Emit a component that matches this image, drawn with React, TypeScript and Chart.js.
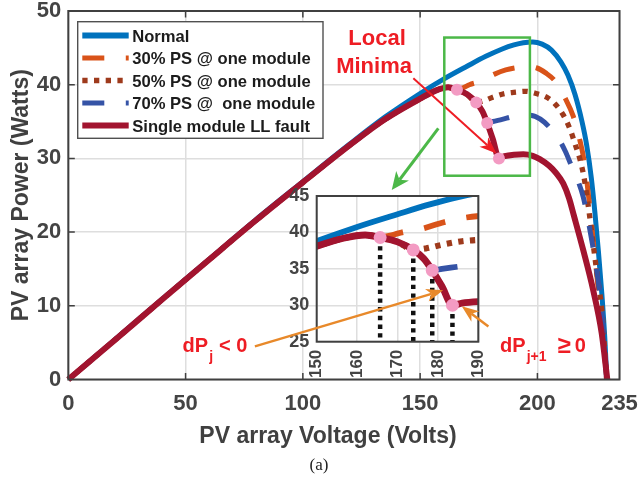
import React, { useEffect, useRef } from 'react';
import { Chart, registerables } from 'chart.js';
Chart.register(...registerables);

const W = 638;
const H = 481;
const FONT = '"Liberation Sans", Arial, Helvetica, sans-serif';
const AXIS = '#404040';
const TICK = '#444444';
const GRID = '#dedede';

// ---------------- data ----------------
const normalV = [0, 20, 40, 60, 80, 100, 120, 135, 150, 160, 170, 178, 185, 190, 194, 198, 202, 206, 210, 213, 216, 219, 221, 223, 224.5, 226, 227.5, 228.7, 229.6];
const normalP = [0, 5.45, 10.9, 16.3, 21.7, 26.85, 31.95, 35.6, 38.8, 40.75, 42.5, 43.85, 44.85, 45.4, 45.7, 45.8, 45.5, 44.7, 43.1, 41.3, 38.7, 35.0, 31.8, 27.3, 22.7, 17.4, 11.5, 5.8, 0];

const ps30V = [0, 20, 40, 60, 80, 100, 120, 135, 150, 156.6, 162, 165.7, 168.5, 171, 176, 181.5, 186.5, 191, 195, 199.5, 203.5, 207.5, 211.8, 215.3, 218, 220, 222.4, 224.2, 226, 228, 229.6];
const ps30P = [0, 5.4, 10.85, 16.25, 21.6, 26.75, 31.8, 35.3, 38.1, 39.2, 39.65, 39.35, 39.6, 40.0, 40.5, 41.4, 42.0, 42.3, 42.45, 42.3, 41.6, 40.5, 38.2, 35.7, 32.6, 29.5, 23.2, 17.6, 12.1, 5.6, 0];

const ps50V = [0, 20, 40, 60, 80, 100, 120, 135, 150, 156.6, 162, 165.7, 170, 173.9, 177, 181, 186, 191, 195, 199.5, 204, 207.5, 211, 214, 216, 218.2, 220, 222, 224, 226, 227.5, 229.5];
const ps50P = [0, 5.4, 10.85, 16.25, 21.6, 26.75, 31.8, 35.3, 38.1, 39.2, 39.65, 39.3, 38.7, 37.6, 37.8, 38.3, 38.8, 39.0, 39.1, 38.8, 38.3, 37.4, 35.9, 33.9, 32.0, 29.8, 27.2, 22.8, 17.8, 13.0, 9.3, 0];

const ps70V = [0, 20, 40, 60, 80, 100, 120, 135, 150, 156.6, 162, 165.7, 170, 173.9, 176.5, 178.6, 181, 185, 190, 195, 199, 203, 206, 209, 212, 214.5, 217, 219.5, 221.5, 223.5, 225.5, 227.5, 229.5];
const ps70P = [0, 5.4, 10.85, 16.25, 21.6, 26.75, 31.8, 35.3, 38.1, 39.2, 39.65, 39.3, 38.7, 37.6, 36.4, 34.8, 35.0, 35.3, 35.7, 35.9, 35.7, 34.9, 33.9, 32.7, 30.9, 29.0, 27.2, 24.8, 21.8, 18.3, 14.3, 9.0, 0];

const faultV = [0, 20, 40, 60, 80, 100, 120, 135, 150, 156.6, 162, 165.7, 170, 173.9, 176.5, 178.6, 181, 183.6, 186, 190, 194, 198, 201, 205, 208, 211, 213.5, 215.5, 219.5, 223.8, 227.4, 229.8];
const faultP = [0, 5.4, 10.85, 16.25, 21.6, 26.75, 31.8, 35.3, 38.1, 39.2, 39.65, 39.3, 38.7, 37.6, 36.4, 34.8, 32.6, 30.0, 30.3, 30.5, 30.55, 30.35, 29.9, 29.0, 28.0, 26.6, 24.6, 22.3, 17.6, 12.1, 6.3, 0];

const markerV = [165.7, 173.9, 178.6, 183.6];
const markerP = [39.3, 37.6, 34.8, 30.0];

const xTicks = [0, 50, 100, 150, 200, 235];
const yTicks = [0, 10, 20, 30, 40, 50];
const insetXTicks = [150, 160, 170, 180, 190];
const insetYTicks = [25, 30, 35, 40, 45];

const seriesLabels = ['Normal', '30% PS @ one module', '50% PS @ one module', '70% PS @  one module', 'Single module LL fault'];
const seriesColors = ['#0072BD', '#D95319', '#9E3A1C', '#3553A6', '#A2142F'];
const markerColor = '#F39BC3';

const xTitle = 'PV array Voltage (Volts)';
const yTitle = 'PV array Power (Watts)';
const caption = '(a)';

// --------------- helpers ---------------
const pts = (vs: number[], ps: number[]) => vs.map((v, i) => ({ x: v, y: ps[i] }));

const styles = [
  { w: 5, dash: [] as number[] },
  { w: 5, dash: [22, 21.5] },
  { w: 5.3, dash: [5.3, 6.4] },
  { w: 5, dash: [22, 21.5] },
  { w: 6, dash: [] as number[] },
];

function seriesDatasets(scale: number, clip: number, offsets: number[]) {
  const data = [pts(normalV, normalP), pts(ps30V, ps30P), pts(ps50V, ps50P), pts(ps70V, ps70P), pts(faultV, faultP)];
  const orders = [6, 5, 4, 3, 2];
  return data.map((d, i) => ({
    label: seriesLabels[i],
    data: d,
    borderColor: seriesColors[i],
    backgroundColor: seriesColors[i],
    borderWidth: styles[i].w * scale,
    borderDash: styles[i].dash,
    borderDashOffset: offsets[i],
    borderCapStyle: 'butt',
    borderJoinStyle: 'round',
    pointRadius: 0,
    fill: false,
    cubicInterpolationMode: 'monotone',
    order: orders[i],
    clip,
  }));
}

function drawArrow(ctx: CanvasRenderingContext2D, x1: number, y1: number, x2: number, y2: number, color: string, width: number, headLen: number, headW: number) {
  const ang = Math.atan2(y2 - y1, x2 - x1);
  const ux = Math.cos(ang), uy = Math.sin(ang);
  const px = -uy, py = ux;
  const bx = x2 - ux * headLen, by = y2 - uy * headLen;
  const nx = x2 - ux * headLen * 0.72, ny = y2 - uy * headLen * 0.72;
  ctx.save();
  ctx.strokeStyle = color;
  ctx.fillStyle = color;
  ctx.lineWidth = width;
  ctx.setLineDash([]);
  ctx.beginPath();
  ctx.moveTo(x1, y1);
  ctx.lineTo(nx, ny);
  ctx.stroke();
  ctx.beginPath();
  ctx.moveTo(x2, y2);
  ctx.lineTo(bx + (px * headW) / 2, by + (py * headW) / 2);
  ctx.lineTo(nx, ny);
  ctx.lineTo(bx - (px * headW) / 2, by - (py * headW) / 2);
  ctx.closePath();
  ctx.fill();
  ctx.restore();
}

const RED = '#EE1D24';
const GREEN = '#4CB848';
const ORANGE = '#E8892A';

// --------------- main decoration plugin ---------------
const mainDeco = {
  id: 'mainDeco',
  afterDraw(chart: any) {
    const { ctx, chartArea: ca } = chart;
    const xs = chart.scales.x, ys = chart.scales.y;
    ctx.save();
    // inner tick marks
    ctx.strokeStyle = AXIS;
    ctx.lineWidth = 1.5;
    const tl = 6.5;
    ctx.beginPath();
    for (const v of xTicks) {
      if (v <= xs.min || v >= xs.max) continue;
      const p = xs.getPixelForValue(v);
      ctx.moveTo(p, ca.top); ctx.lineTo(p, ca.top + tl);
      ctx.moveTo(p, ca.bottom); ctx.lineTo(p, ca.bottom - tl);
    }
    for (const v of yTicks) {
      if (v <= ys.min || v >= ys.max) continue;
      const p = ys.getPixelForValue(v);
      ctx.moveTo(ca.left, p); ctx.lineTo(ca.left + tl, p);
      ctx.moveTo(ca.right, p); ctx.lineTo(ca.right - tl, p);
    }
    ctx.stroke();
    // box
    ctx.lineWidth = 2;
    ctx.strokeRect(ca.left, ca.top, ca.right - ca.left, ca.bottom - ca.top);

    // legend
    const lx = ca.left + 9.4, ly = ca.top + 10.7, lw = 245.3, lh = 116.6;
    ctx.fillStyle = '#ffffff';
    ctx.fillRect(lx, ly, lw, lh);
    ctx.strokeStyle = '#505050';
    ctx.lineWidth = 1.4;
    ctx.strokeRect(lx, ly, lw, lh);
    const rowY0 = ly + 13.8, rowStep = 22.5;
    for (let i = 0; i < seriesLabels.length; i++) {
      const ry = rowY0 + i * rowStep;
      ctx.save();
      ctx.strokeStyle = seriesColors[i];
      ctx.lineWidth = i === 0 || i === 4 ? 6 : styles[i].w;
      ctx.setLineDash(styles[i].dash);
      ctx.lineCap = 'butt';
      ctx.beginPath();
      ctx.moveTo(lx + 4.6, ry);
      ctx.lineTo(lx + 51, ry);
      ctx.stroke();
      ctx.restore();
      ctx.fillStyle = '#1c1c1c';
      ctx.font = `bold 16.6px ${FONT}`;
      ctx.textAlign = 'left';
      ctx.textBaseline = 'alphabetic';
      ctx.fillText(seriesLabels[i], lx + 54.5, ry + 6);
    }

    // Local Minima text
    const tx = xs.getPixelForValue(131);
    ctx.fillStyle = RED;
    ctx.font = `bold 22px ${FONT}`;
    ctx.textAlign = 'center';
    ctx.textBaseline = 'alphabetic';
    ctx.fillText('Local', tx + 1.5, ys.getPixelForValue(45.4));
    ctx.fillText('Minima', tx - 1.5, ys.getPixelForValue(41.6));
    // red arrow to the last marker
    const mx = xs.getPixelForValue(markerV[3]), my = ys.getPixelForValue(markerP[3]);
    drawArrow(ctx, xs.getPixelForValue(147.1), ys.getPixelForValue(40.87), mx - 2.5, my - 5, RED, 2, 17, 13);

    // green zoom rectangle
    const gx1 = xs.getPixelForValue(160.3), gx2 = xs.getPixelForValue(196.8);
    const gy1 = ys.getPixelForValue(46.4), gy2 = ys.getPixelForValue(27.65);
    ctx.strokeStyle = GREEN;
    ctx.lineWidth = 2.5;
    ctx.strokeRect(gx1, gy1, gx2 - gx1, gy2 - gy1);
    drawArrow(ctx, xs.getPixelForValue(157.75), ys.getPixelForValue(34.08), xs.getPixelForValue(137.9), ys.getPixelForValue(25.7), GREEN, 3, 18, 16);

    // x axis title and caption
    ctx.fillStyle = AXIS;
    ctx.font = `bold 23px ${FONT}`;
    ctx.textAlign = 'center';
    ctx.textBaseline = 'middle';
    ctx.fillText(xTitle, 328, ca.bottom + 57.5);
    ctx.fillStyle = '#222222';
    ctx.font = `17px "Liberation Serif", "Times New Roman", serif`;
    ctx.fillText(caption, 319, ca.bottom + 86.5);
    ctx.restore();
  },
};

// --------------- inset decoration plugin ---------------
const insetDeco = {
  id: 'insetDeco',
  beforeDraw(chart: any) {
    const { ctx, chartArea: ca } = chart;
    ctx.save();
    ctx.fillStyle = '#ffffff';
    ctx.fillRect(ca.left, ca.top, ca.right - ca.left, ca.bottom - ca.top);
    ctx.restore();
  },
  afterDraw(chart: any) {
    const { ctx, chartArea: ca } = chart;
    const xs = chart.scales.x, ys = chart.scales.y;
    ctx.save();
    ctx.strokeStyle = AXIS;
    ctx.lineWidth = 2;
    ctx.strokeRect(ca.left, ca.top, ca.right - ca.left, ca.bottom - ca.top);

    // orange arrows
    drawArrow(ctx, xs.getPixelForValue(134.7), ys.getPixelForValue(24.36), xs.getPixelForValue(181.3), ys.getPixelForValue(32.05), ORANGE, 2.5, 17, 13);
    drawArrow(ctx, xs.getPixelForValue(192.5), ys.getPixelForValue(27.1), xs.getPixelForValue(185.9), ys.getPixelForValue(29.86), ORANGE, 2.5, 17, 13);

    // dP labels
    ctx.fillStyle = RED;
    ctx.textAlign = 'left';
    ctx.textBaseline = 'alphabetic';
    const base = ys.getPixelForValue(23.53);
    // left label
    let x0 = xs.getPixelForValue(116.8);
    ctx.font = `bold 20px ${FONT}`;
    ctx.fillText('dP', x0, base);
    let w = ctx.measureText('dP').width;
    ctx.font = `bold 14px ${FONT}`;
    ctx.fillText('j', x0 + w + 1, base + 9);
    const wj = ctx.measureText('j').width;
    ctx.font = `bold 20px ${FONT}`;
    ctx.fillText(' < 0', x0 + w + wj + 1.5, base);
    // right label
    x0 = xs.getPixelForValue(195.4);
    ctx.font = `bold 20px ${FONT}`;
    ctx.fillText('dP', x0, base);
    w = ctx.measureText('dP').width;
    ctx.font = `bold 14px ${FONT}`;
    ctx.fillText('j+1', x0 + w + 1, base + 9);
    const wj1 = ctx.measureText('j+1').width;
    const gx = x0 + w + 1 + wj1 + 11;
    ctx.font = `bold 24px ${FONT}`;
    ctx.fillText('\u2265', gx, base + 1);
    const wg = ctx.measureText('\u2265').width;
    ctx.font = `bold 20px ${FONT}`;
    ctx.fillText('0', gx + wg + 4, base);
    ctx.restore();
  },
};

export default function App() {
  const mainRef = useRef<HTMLCanvasElement | null>(null);
  const insetRef = useRef<HTMLCanvasElement | null>(null);

  useEffect(() => {
    Chart.defaults.font.family = FONT;
    const tickFont = { family: FONT, size: 22, weight: 'bold' as const };

    const main = new Chart(mainRef.current as HTMLCanvasElement, {
      type: 'line',
      data: {
        datasets: [
          ...seriesDatasets(1, 4, [0, -8, 0, -16, 0]),
          {
            label: 'markers',
            data: pts(markerV, markerP),
            showLine: false,
            pointRadius: 6,
            pointBackgroundColor: markerColor,
            pointBorderWidth: 0,
            order: 0,
          },
        ] as any,
      },
      options: {
        animation: false,
        responsive: false,
        devicePixelRatio: 1,
        events: [],
        layout: { padding: { left: 0, top: 11, right: 18.5, bottom: 0 } },
        plugins: { legend: { display: false }, tooltip: { enabled: false } },
        scales: {
          x: {
            type: 'linear',
            min: 0,
            max: 235,
            afterBuildTicks: (s: any) => { s.ticks = xTicks.map((v) => ({ value: v })); },
            afterFit: (s: any) => { s.height = 101.5; s.paddingLeft = 0; s.paddingRight = 0; },
            grid: { color: GRID, lineWidth: 1.5, drawTicks: false },
            border: { display: false },
            ticks: { font: tickFont, color: TICK, padding: 11.5, maxRotation: 0, autoSkip: false },
          },
          y: {
            type: 'linear',
            min: 0,
            max: 50,
            afterBuildTicks: (s: any) => { s.ticks = yTicks.map((v) => ({ value: v })); },
            afterFit: (s: any) => { s.width = 68.3; s.paddingTop = 0; s.paddingBottom = 0; },
            grid: { color: GRID, lineWidth: 1.5, drawTicks: false },
            border: { display: false },
            ticks: { font: tickFont, color: TICK, padding: 7 },
            title: {
              display: true,
              text: yTitle,
              color: AXIS,
              font: { family: FONT, size: 23, weight: 'bold' },
              padding: { top: 8, bottom: 0 },
            },
          },
        },
      } as any,
      plugins: [mainDeco],
    });

    const insetLines = markerV.map((v, i) => ({
      label: 'drop' + i,
      data: [{ x: v, y: markerP[i] }, { x: v, y: insetYTicks[0] }],
      borderColor: '#111111',
      borderWidth: 4.5,
      borderDash: [4.4, 4.3],
      borderCapStyle: 'butt',
      pointRadius: 0,
      fill: false,
      tension: 0,
      order: 1,
      clip: 0,
    }));

    const inset = new Chart(insetRef.current as HTMLCanvasElement, {
      type: 'line',
      data: {
        datasets: [
          ...seriesDatasets(1.15, 0, [0, 0, 0, 21, 0]),
          ...insetLines,
          {
            label: 'markers',
            data: pts(markerV, markerP),
            showLine: false,
            pointRadius: 6.5,
            pointBackgroundColor: markerColor,
            pointBorderWidth: 0,
            order: 0,
            clip: 8,
          },
        ] as any,
      },
      options: {
        animation: false,
        responsive: false,
        devicePixelRatio: 1,
        events: [],
        layout: { padding: { left: 0, top: 196, right: 159.7, bottom: 0 } },
        plugins: { legend: { display: false }, tooltip: { enabled: false } },
        scales: {
          x: {
            type: 'linear',
            min: 150,
            max: 190,
            afterBuildTicks: (s: any) => { s.ticks = insetXTicks.map((v) => ({ value: v })); },
            afterFit: (s: any) => { s.height = 139.3; s.paddingLeft = 0; s.paddingRight = 0; },
            grid: { color: GRID, lineWidth: 1.5, drawTicks: false },
            border: { display: false },
            ticks: { font: { family: FONT, size: 17, weight: 'bold' }, color: TICK, padding: 8, minRotation: 90, maxRotation: 90, autoSkip: false },
          },
          y: {
            type: 'linear',
            min: 25,
            max: 45,
            afterBuildTicks: (s: any) => { s.ticks = insetYTicks.map((v) => ({ value: v })); },
            afterFit: (s: any) => { s.width = 316.7; s.paddingTop = 0; s.paddingBottom = 0; },
            grid: { color: GRID, lineWidth: 1.5, drawTicks: false },
            border: { display: false },
            ticks: { font: { family: FONT, size: 18, weight: 'bold' }, color: TICK, padding: 7.4 },
          },
        },
      } as any,
      plugins: [insetDeco],
    });

    return () => {
      main.destroy();
      inset.destroy();
    };
  }, []);

  return (
    <div style={{ position: 'fixed', left: 0, top: 0, width: W, height: H, background: '#ffffff' }}>
      <canvas ref={mainRef} width={W} height={H} style={{ position: 'absolute', left: 0, top: 0, width: W, height: H }} />
      <canvas ref={insetRef} width={W} height={H} style={{ position: 'absolute', left: 0, top: 0, width: W, height: H }} />
    </div>
  );
}
